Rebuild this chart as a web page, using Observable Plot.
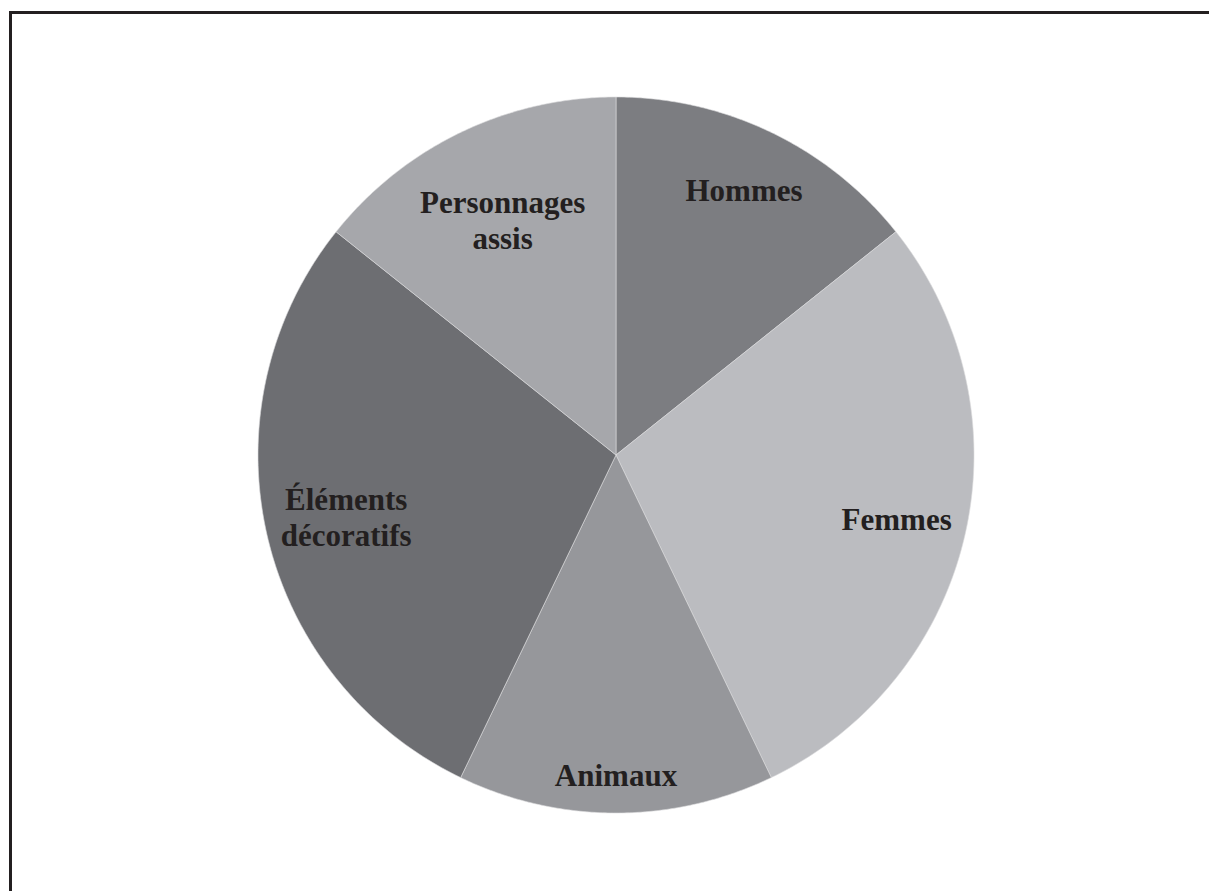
<!DOCTYPE html>
<html>
<head>
<meta charset="utf-8">
<script src="https://cdn.jsdelivr.net/npm/d3@7"></script>
<script src="https://cdn.jsdelivr.net/npm/@observablehq/plot@0.6"></script>
<style>
  html, body { margin: 0; padding: 0; background: #fff; }
  #wrap { position: relative; width: 1209px; height: 891px; overflow: hidden; }
  #frame { position: absolute; left: 9px; top: 11px; width: 1300px; height: 1000px;
           border-top: 3px solid #231f20; border-left: 3px solid #231f20; }
  #chart { position: absolute; left: 0; top: 0; }
</style>
</head>
<body>
<div id="wrap"><div id="chart"></div><div id="frame"></div></div>
<script>
// Data (clockwise from 12 o'clock)
const labels = ["Hommes", "Femmes", "Animaux", "Éléments\ndécoratifs", "Personnages\nassis"];
const values = [1, 2, 1, 2, 1];

// Styles / layout
const colors = ["#7c7d81", "#bbbcc0", "#96979b", "#6d6e72", "#a6a7ab"];
const labelRadius = [0.824, 0.804, 0.894, 0.773, 0.73];
const W = 1209, H = 891, CX = 615.5, CY = 454.5, R = 358;

const arcs = d3.pie().sort(null)(values);
const slices = arcs.map((a, i) => {
  const n = 120;
  const pts = [{x: 0, y: 0}];
  for (let k = 0; k <= n; k++) {
    const t = a.startAngle + (a.endAngle - a.startAngle) * k / n;
    pts.push({x: Math.sin(t), y: Math.cos(t)});
  }
  pts.push({x: 0, y: 0});
  return {pts, color: colors[i]};
});
const labelData = arcs.map((a, i) => {
  const m = (a.startAngle + a.endAngle) / 2;
  return {text: labels[i], x: labelRadius[i] * Math.sin(m), y: labelRadius[i] * Math.cos(m)};
});

const chart = Plot.plot({
  width: W, height: H, margin: 0,
  x: {domain: [-CX / R, (W - CX) / R], axis: null},
  y: {domain: [-(H - CY) / R, CY / R], axis: null},
  marks: [
    ...slices.map(s => Plot.line(s.pts, {x: "x", y: "y", fill: s.color, stroke: "#dcdcde", strokeWidth: 0.6, strokeLinejoin: "round", curve: "linear"})),
    Plot.text(labelData, {x: "x", y: "y", text: "text", fontFamily: "Liberation Serif", fontWeight: "bold", fontSize: 31, lineHeight: 1.15, fill: "#231f20", textAnchor: "middle"})
  ]
});
document.getElementById("chart").appendChild(chart);
</script>
</body>
</html>
